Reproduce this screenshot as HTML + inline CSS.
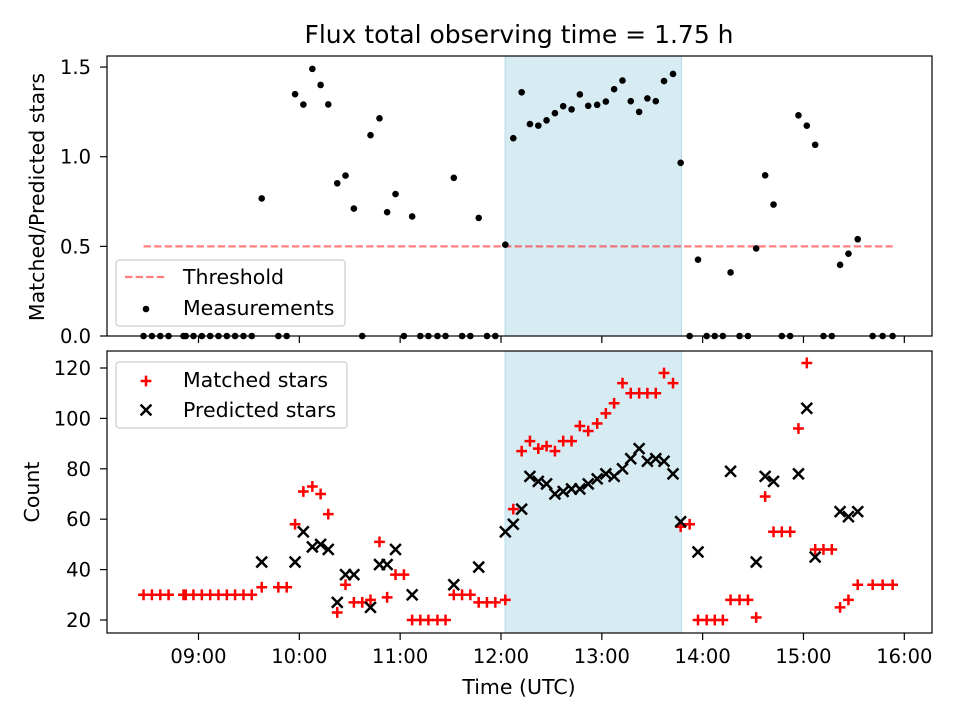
<!DOCTYPE html>
<html><head><meta charset="utf-8"><style>
body{margin:0;background:#fff;}
svg{display:block;font-family:"DejaVu Sans","Liberation Sans",sans-serif;}
</style></head><body>
<svg id="chart" width="960" height="720" viewBox="0 0 960 720">
<rect width="960" height="720" fill="#fff"/>
<text x="519" y="43" font-size="25" text-anchor="middle">Flux total observing time = 1.75 h</text>
<g id="topPanel"></g>
<g id="botPanel"></g>
<text x="519" y="694" font-size="20.5" text-anchor="middle">Time (UTC)</text>
<text transform="translate(44,197) rotate(-90)" font-size="20.5" text-anchor="middle">Matched/Predicted stars</text>
<text transform="translate(39,492) rotate(-90)" font-size="20.5" text-anchor="middle">Count</text>
</svg>
<script>
const times = [8.455,8.538,8.621,8.703,8.851,8.874,8.950,9.033,9.116,9.198,9.281,9.363,9.446,9.528,9.627,9.792,9.875,9.958,10.040,10.129,10.211,10.287,10.376,10.458,10.541,10.624,10.706,10.795,10.871,10.954,11.037,11.119,11.20,11.28,11.37,11.45,11.532,11.614,11.696,11.779,11.861,11.944,12.043,12.122,12.205,12.287,12.370,12.452,12.535,12.617,12.700,12.782,12.865,12.954,13.040,13.122,13.205,13.287,13.370,13.452,13.535,13.617,13.706,13.782,13.871,13.954,14.04,14.12,14.20,14.277,14.366,14.449,14.531,14.620,14.703,14.785,14.868,14.950,15.033,15.116,15.198,15.281,15.363,15.446,15.538,15.686,15.785,15.884];
const matched = [30,30,30,30,30,30,30,30,30,30,30,30,30,30,33,33,33,58,71,73,70,62,23,34,27,27,28,51,29,38,38,20,20,20,20,20,30,30,30,27,27,27,28,64,87,91,88,89,87,91,91,97,95,98,102,106,114,110,110,110,110,118,114,57,58,20,20,20,20,28,28,28,21,69,55,55,55,96,122,48,48,48,25,28,34,34,34,34];
const predicted = [null,null,null,null,null,null,null,null,null,null,null,null,null,null,43,null,null,43,55,49,50,48,27,38,38,null,25,42,42,48,null,30,null,null,null,null,34,null,null,41,null,null,55,58,64,77,75,74,70,71,72,72,74,76,78,77,80,84,88,83,84,83,78,59,null,47,null,null,null,79,null,null,43,77,75,null,null,78,104,45,null,null,63,61,63,null,null,null];
const threshold = 0.5;
const windowStart = 12.04, windowHours = 1.75;
const xTickHours = [9,10,11,12,13,14,15,16];
const xTickLabels = ["09:00","10:00","11:00","12:00","13:00","14:00","15:00","16:00"];
const topTicks = [0,0.5,1.0,1.5];
const topTickLabels = ["0.0","0.5","1.0","1.5"];
const botTicks = [20,40,60,80,100,120];

const NS="http://www.w3.org/2000/svg";
function mk(tag,attrs,parent){const e=document.createElementNS(NS,tag);for(const k in attrs)e.setAttribute(k,attrs[k]);parent.appendChild(e);return e;}
const L=107,R=932;
const TICK=19.5;
const MS=5.4, MW=2.5;
const x=h=>198.5+(h-9)*100.83;
const yTop=v=>336-v*179.3;
const yBot=v=>620-(v-20)*2.52;
const topG=document.getElementById('topPanel'), botG=document.getElementById('botPanel');

function panel(g,T,B,name){
  const r=mk('rect',{x:L,y:T,width:R-L,height:B-T,fill:'#fff'},g);
  
  
  const s=mk('rect',{x:x(windowStart),y:T,width:x(windowStart+windowHours)-x(windowStart),height:B-T,fill:'#add8e6','fill-opacity':0.5,stroke:'#add8e6','stroke-opacity':0.8},g);
  
  
}
panel(topG,56,336,'top');
panel(botG,351,633,'bottom');

const th=mk('line',{x1:x(times[0]),x2:x(times[times.length-1]),y1:yTop(threshold),y2:yTop(threshold),stroke:'#ff0000','stroke-opacity':0.5,'stroke-width':2.3,'stroke-dasharray':'7.4,3.2'},topG);



times.forEach((t,i)=>{
  const p=predicted[i];
  const v=p?matched[i]/p:0;
  const c=mk('circle',{cx:x(t),cy:yTop(v),r:3.3,fill:'#000'},topG);
  
  
});
times.forEach((t,i)=>{
  const cx=x(t),cy=yBot(matched[i]),s=MS;
  const p=mk('path',{d:`M${cx-s},${cy}H${cx+s}M${cx},${cy-s}V${cy+s}`,stroke:'#ff0000','stroke-width':MW,fill:'none'},botG);
  
  
});
times.forEach((t,i)=>{
  if(predicted[i]==null)return;
  const cx=x(t),cy=yBot(predicted[i]),s=MS;
  const p=mk('path',{d:`M${cx-s},${cy-s}L${cx+s},${cy+s}M${cx-s},${cy+s}L${cx+s},${cy-s}`,stroke:'#000','stroke-width':MW,fill:'none'},botG);
  
  
});

function frame(g,T,B,name){
  const f=mk('rect',{x:L,y:T,width:R-L,height:B-T,fill:'none',stroke:'#000','stroke-width':1.2},g);
  
  
  xTickHours.forEach(h=>{
    const tk=mk('line',{x1:x(h),x2:x(h),y1:B,y2:B+7,stroke:'#000','stroke-width':1.2},g);
    
    
  });
}
frame(topG,56,336,'top');
frame(botG,351,633,'bottom');
xTickHours.forEach((h,i)=>{
  const t=mk('text',{x:x(h),y:663,'font-size':TICK,'text-anchor':'middle'},botG);
  t.textContent=xTickLabels[i];
  
  
});
topTicks.forEach((v,i)=>{
  mk('line',{x1:L-7,x2:L,y1:yTop(v),y2:yTop(v),stroke:'#000','stroke-width':1.2},topG);
  const t=mk('text',{x:L-16,y:yTop(v)+7,'font-size':TICK,'text-anchor':'end'},topG);
  t.textContent=topTickLabels[i];
  
  
});
botTicks.forEach(v=>{
  mk('line',{x1:L-7,x2:L,y1:yBot(v),y2:yBot(v),stroke:'#000','stroke-width':1.2},botG);
  const t=mk('text',{x:L-16,y:yBot(v)+7,'font-size':TICK,'text-anchor':'end'},botG);
  t.textContent=String(v);
  
  
});

function legend(g,X,Y,W,H,name){
  const r=mk('rect',{x:X,y:Y,width:W,height:H,rx:3,fill:'#fff','fill-opacity':0.8,stroke:'#cccccc','stroke-width':1.2},g);
  
  
}
legend(topG,116,260,229,66,'top-legend');
mk('line',{x1:125,x2:166,y1:277,y2:277,stroke:'#ff0000','stroke-opacity':0.5,'stroke-width':2.3,'stroke-dasharray':'7.4,3.2'},topG);
let t1=mk('text',{x:183,y:284,'font-size':20.5},topG);t1.textContent='Threshold';


mk('circle',{cx:146,cy:309,r:3.3,fill:'#000'},topG);
let t2=mk('text',{x:183,y:315,'font-size':20.5},topG);t2.textContent='Measurements';



legend(botG,116,362,231,66,'bottom-legend');
mk('path',{d:'M140.6,381H151.4M146,375.6V386.4',stroke:'#ff0000','stroke-width':2.5},botG);
let t3=mk('text',{x:183,y:387,'font-size':20.5},botG);t3.textContent='Matched stars';


mk('path',{d:'M140.6,404.6L151.4,415.4M140.6,415.4L151.4,404.6',stroke:'#000','stroke-width':2.5},botG);
let t4=mk('text',{x:183,y:417,'font-size':20.5},botG);t4.textContent='Predicted stars';


</script>
</body></html>
